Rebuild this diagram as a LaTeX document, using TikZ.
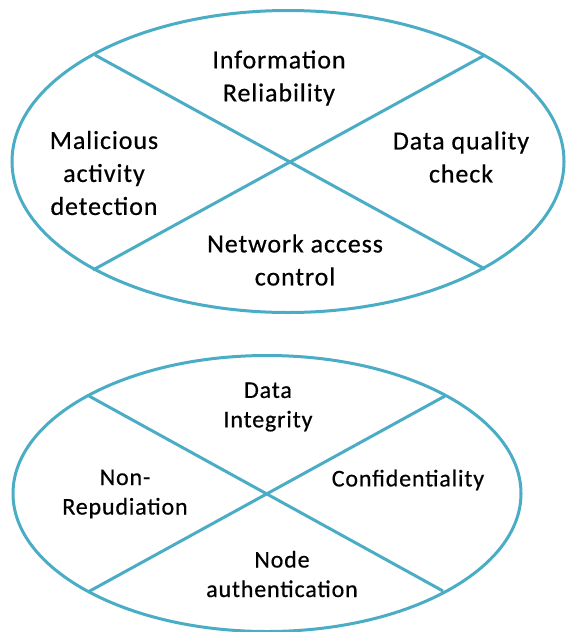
\documentclass[tikz,border=0pt]{standalone}
\usepackage{fontspec}
\setmainfont[LetterSpace=3.5,FakeBold=0.5]{Carlito}
\definecolor{aqua}{HTML}{4BACC6}

\begin{document}
\begin{tikzpicture}
  [x=1pt,y=-1pt,line width=3pt,every node/.style={align=center,inner sep=0pt}]
  \useasboundingbox (0,0) rectangle (567,632);

  % upper ring
  \draw [aqua] (288,161.5) ellipse [x radius=276,y radius=151];
  \coordinate (u1) at (95,55);
  \coordinate (u2) at (485,55);
  \coordinate (u3) at (93,270);
  \coordinate (u4) at (485,269);

  \begin{scope}[font=\fontsize{26}{33}\selectfont]
  \node (info) at (279,78) {Information\\Reliability};
  \node (malicious) at (104,173) {Malicious\\activity\\detection};
  \node (quality) at (461,157) {Data quality\\check};
  \node (access) at (295,260) {Network access\\control};
  \end{scope}

  % lower ring
  \draw [aqua] (267,493.5) ellipse [x radius=254,y radius=138];
  \coordinate (l1) at (89,396);
  \coordinate (l2) at (445,396);
  \coordinate (l3) at (88,592);
  \coordinate (l4) at (443,591);

  \begin{scope}[font=\fontsize{24}{29.5}\selectfont]
  \node (integrity) at (268,407) {Data\\Integrity};
  \node (repudiation) at (125,494) {Non-\\Repudiation};
  \node (confidentiality) at (408,480) {Confidentiality};
  \node (nodeauth) at (282,574) {Node\\authentication};
  \end{scope}

  \foreach \from/\to in {u1/u4, u3/u2, l1/l4, l3/l2}
    \draw [aqua] (\from) -- (\to);

\end{tikzpicture}
\end{document}
